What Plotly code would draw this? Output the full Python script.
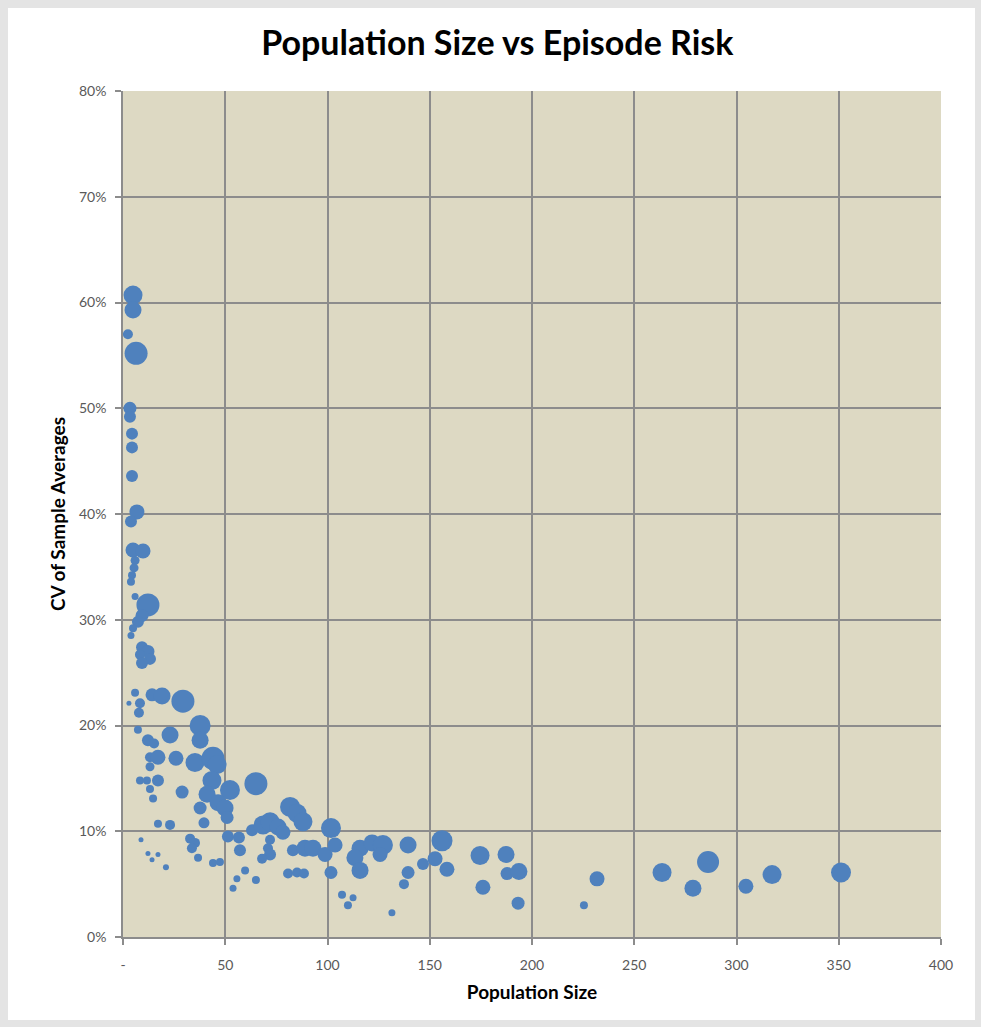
import plotly.graph_objects as go

# Population size (x), CV of sample averages in % (y), bubble diameter (px-scale value)
population = [
    4.9, 4.9, 2.4, 6.4, 3.4, 3.4, 4.4, 4.4, 4.4, 6.8,
    3.9, 4.9, 9.8, 5.9, 5.4, 4.4, 3.9, 5.9, 12.2, 9.3,
    7.3, 4.9, 3.9, 9.3, 12.2, 8.3, 13.2, 9.3, 5.9, 2.9,
    8.3, 14.2, 19.1, 29.3, 7.8, 7.3, 12.2, 15.2, 23.0, 37.7,
    37.7, 13.2, 17.1, 13.2, 25.9, 35.2, 44.0, 46.0, 8.3, 11.7,
    17.1, 13.2, 14.7, 28.9, 43.5, 41.1, 52.3, 65.0, 37.7, 46.5,
    49.9, 50.9, 39.6, 17.1, 23.0, 51.3, 56.7, 57.2, 63.1, 68.5,
    71.9, 75.8, 78.2, 81.7, 85.1, 88.0, 71.9, 70.9, 71.9, 68.0,
    32.8, 35.2, 33.7, 36.7, 44.0, 47.4, 8.8, 12.2, 17.1, 14.2,
    21.0, 59.7, 55.7, 53.8, 65.0, 80.7, 85.1, 88.5, 83.1, 89.0,
    92.9, 98.8, 101.7, 103.7, 101.7, 107.1, 112.5, 110.0, 131.5, 115.9,
    113.4, 115.9, 121.8, 127.1, 125.7, 139.4, 139.4, 137.4, 146.7, 152.6,
    156.0, 158.4, 174.6, 176.0, 187.3, 187.8, 193.6, 193.2, 225.4, 231.8,
    263.6, 278.7, 286.1, 304.6, 317.4, 351.1,
]

cv_pct = [
    60.7, 59.3, 57.0, 55.2, 50.0, 49.2, 47.6, 46.3, 43.6, 40.2,
    39.3, 36.6, 36.5, 35.6, 34.9, 34.2, 33.6, 32.2, 31.4, 30.4,
    29.8, 29.2, 28.5, 27.4, 27.0, 26.7, 26.3, 25.9, 23.1, 22.1,
    22.1, 22.9, 22.8, 22.3, 21.2, 19.6, 18.6, 18.3, 19.1, 20.0,
    18.6, 17.0, 17.0, 16.1, 16.9, 16.5, 16.9, 16.3, 14.8, 14.8,
    14.8, 14.0, 13.1, 13.7, 14.8, 13.5, 13.9, 14.5, 12.2, 12.7,
    12.2, 11.3, 10.8, 10.7, 10.6, 9.5, 9.4, 8.2, 10.1, 10.6,
    10.9, 10.4, 9.9, 12.3, 11.7, 10.9, 9.2, 8.4, 7.8, 7.4,
    9.3, 8.9, 8.4, 7.5, 7.0, 7.1, 9.2, 7.9, 7.8, 7.3,
    6.6, 6.3, 5.5, 4.6, 5.4, 6.0, 6.1, 6.0, 8.2, 8.4,
    8.4, 7.8, 10.3, 8.7, 6.1, 4.0, 3.7, 3.0, 2.3, 8.4,
    7.5, 6.3, 8.9, 8.7, 7.8, 8.7, 6.1, 5.0, 6.9, 7.4,
    9.1, 6.4, 7.7, 4.7, 7.8, 6.0, 6.2, 3.2, 3.0, 5.5,
    6.1, 4.6, 7.1, 4.8, 5.9, 6.1,
]

bubble = [
    19, 17, 10, 23, 13, 12, 12, 12, 12, 15,
    12, 15, 15, 9, 9, 8, 8, 7, 23, 13,
    12, 8, 7, 12, 13, 10, 12, 12, 8, 5,
    10, 13, 17, 23, 10, 8, 12, 10, 17, 21,
    17, 10, 15, 9, 15, 19, 23, 19, 8, 8,
    12, 8, 8, 13, 19, 17, 20, 23, 13, 17,
    17, 13, 11, 8, 10, 12, 12, 12, 12, 19,
    19, 17, 15, 20, 19, 19, 10, 10, 12, 10,
    10, 10, 10, 8, 8, 8, 5, 5, 5, 5,
    6, 8, 7, 7, 8, 10, 10, 10, 12, 17,
    17, 15, 20, 15, 13, 8, 7, 8, 7, 17,
    17, 17, 17, 20, 15, 17, 13, 10, 12, 15,
    21, 15, 19, 15, 17, 13, 17, 13, 8, 15,
    19, 17, 22, 15, 19, 20,
]

x_tickvals = [0, 50, 100, 150, 200, 250, 300, 350, 400]
x_ticktext = ["-", "50", "100", "150", "200", "250", "300", "350", "400"]
y_tickvals = [0, 0.1, 0.2, 0.3, 0.4, 0.5, 0.6, 0.7, 0.8]
y_ticktext = ["0%", "10%", "20%", "30%", "40%", "50%", "60%", "70%", "80%"]

cv = [v / 100 for v in cv_pct]

fig = go.Figure()
fig.add_trace(go.Scatter(
    x=population, y=cv, mode="markers",
    marker=dict(size=bubble, sizemode="diameter", color="#4f81bd",
                line=dict(width=0), opacity=1),
    showlegend=False,
))

font_family = "Lato, 'Open Sans', sans-serif"
grid_col = "#8c8c8c"
border_col = "#e4e4e4"

W, H = 981, 1027
L, R, T, B = 123, 40, 91, 90
PW, PH = W - L - R, H - T - B


def px_x(p):
    return (p - L) / PW


def px_y(p):
    return (H - B - p) / PH


strips = [
    (0, 8, 0, H),      # left
    (975, W, 0, H),    # right
    (0, W, 0, 8),      # top
    (0, W, 1020, H),   # bottom
]
shapes = [dict(type="rect", xref="paper", yref="paper",
               x0=px_x(a), x1=px_x(b), y0=px_y(d), y1=px_y(c),
               fillcolor=border_col, line=dict(width=0), layer="below")
          for a, b, c, d in strips]

fig.update_layout(
    width=W, height=H,
    margin=dict(l=L, r=R, t=T, b=B),
    paper_bgcolor="#ffffff",
    plot_bgcolor="#ddd9c3",
    font=dict(family=font_family, color="#595959", size=14),
    title=dict(text="<b>Population Size vs Episode Risk</b>",
               x=0.507, xref="container", xanchor="center",
               y=1 - 43 / H, yref="container", yanchor="middle",
               font=dict(size=34, color="#000000", family=font_family)),
    xaxis=dict(range=[0, 400], tickvals=x_tickvals, ticktext=x_ticktext,
               showgrid=True, gridcolor=grid_col, gridwidth=1.5,
               showline=True, linecolor=grid_col, linewidth=1.5, mirror=False,
               ticks="outside", ticklen=6, tickcolor=grid_col, tickwidth=1.5,
               ticklabelstandoff=8, zeroline=False,
               title=dict(text="<b>Population Size</b>", standoff=14,
                          font=dict(size=19, color="#000000"))),
    yaxis=dict(range=[0, 0.8], tickvals=y_tickvals, ticktext=y_ticktext,
               showgrid=True, gridcolor=grid_col, gridwidth=1.5,
               showline=True, linecolor=grid_col, linewidth=1.5,
               ticks="outside", ticklen=6, tickcolor=grid_col, tickwidth=1.5,
               ticklabelstandoff=6, zeroline=False,
               title=dict(text="<b>CV of Sample Averages</b>", standoff=8,
                          font=dict(size=19, color="#000000"))),
    shapes=shapes,
)

fig.write_html(
    "out.html",
    config={"displayModeBar": False},
    post_script="document.body.style.margin='0';document.body.style.padding='0';",
)
